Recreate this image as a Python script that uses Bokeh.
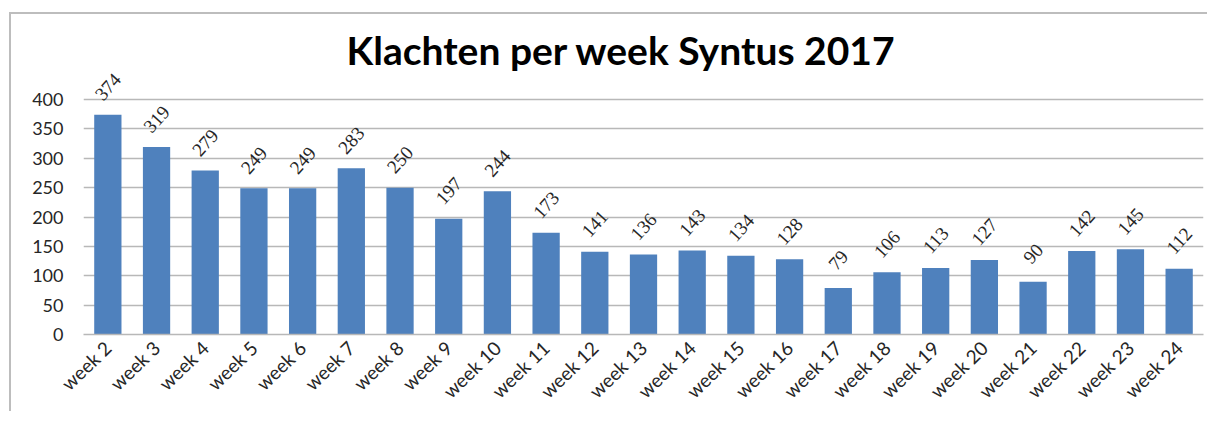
import math
from bokeh.plotting import figure
from bokeh.models import ColumnDataSource, LabelSet, FixedTicker, Range1d
from bokeh.embed import file_html
from bokeh.resources import INLINE

weeks = ["week 2", "week 3", "week 4", "week 5", "week 6", "week 7", "week 8",
         "week 9", "week 10", "week 11", "week 12", "week 13", "week 14", "week 15",
         "week 16", "week 17", "week 18", "week 19", "week 20", "week 21", "week 22",
         "week 23", "week 24"]
klachten = [374, 319, 279, 249, 249, 283, 250, 197, 244, 173, 141, 136, 143, 134,
            128, 79, 106, 113, 127, 90, 142, 145, 112]
y_ticks = [0, 50, 100, 150, 200, 250, 300, 350, 400]
title_text = "Klachten per week Syntus 2017"

FONT = "Lato"
source = ColumnDataSource(data=dict(week=weeks, klachten=klachten,
                                    label=[str(v) for v in klachten]))

p = figure(x_range=weeks, y_range=Range1d(0, 446), width=1198, height=399,
           output_backend="svg", toolbar_location=None,
           min_border_left=72, min_border_right=6, min_border_top=58,
           min_border_bottom=79)
p.margin = (12, 0, 0, 9)
p.styles = {"border-top": "2px solid #bdbdbd", "border-left": "2px solid #bdbdbd"}

p.vbar(x="week", top="klachten", width=0.56, source=source,
       fill_color="#4F81BD", line_color=None)

labels = LabelSet(x="week", y="klachten", text="label", source=source,
                  angle=math.radians(48), text_align="center",
                  text_baseline="middle", y_offset=28,
                  text_font_size="19px", text_color="#262626",
                  text_font=FONT)
p.add_layout(labels)

p.title.text = title_text
p.title.align = "left"
p.title.offset = 263
p.title.text_font = FONT
p.title.text_font_style = "bold"
p.title.text_font_size = "39px"
p.title.text_color = "#000000"
p.title.standoff = 0

p.outline_line_color = None
p.xgrid.grid_line_color = None
p.ygrid.grid_line_color = "#b8b8b8"
p.ygrid.grid_line_width = 1.5
p.yaxis.ticker = FixedTicker(ticks=y_ticks)
p.yaxis.axis_line_color = None
p.yaxis.major_tick_line_color = None
p.yaxis.minor_tick_line_color = None
p.yaxis.major_label_standoff = 14
p.yaxis.major_label_text_font = FONT
p.yaxis.major_label_text_font_size = "18px"
p.yaxis.major_label_text_color = "#262626"

p.xaxis.axis_line_color = "#b8b8b8"
p.xaxis.axis_line_width = 1.5
p.xaxis.major_tick_line_color = None
p.xaxis.minor_tick_line_color = None
p.xaxis.major_label_orientation = math.radians(44)
p.xaxis.major_label_standoff = 4
p.xaxis.major_label_text_font = FONT
p.xaxis.major_label_text_font_size = "19px"
p.xaxis.major_label_text_color = "#262626"
p.x_range.range_padding = 0

open("out.html", "w").write(file_html(p, INLINE))
